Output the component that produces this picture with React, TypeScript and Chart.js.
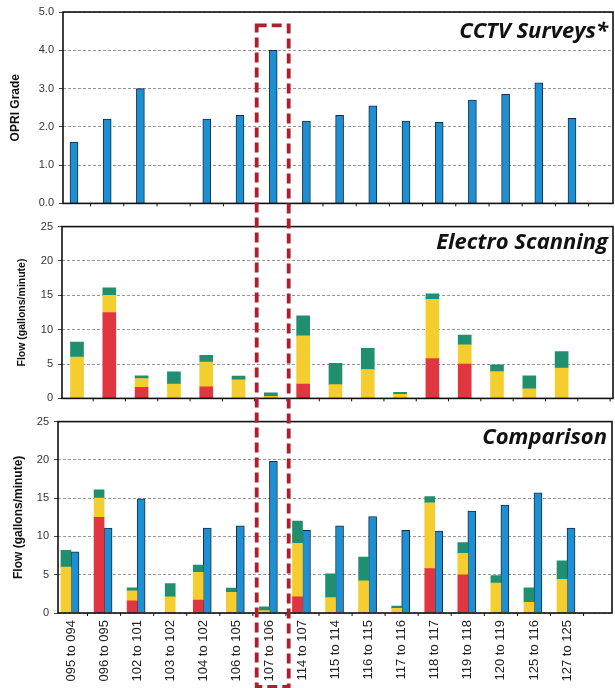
import React, { useEffect, useRef } from "react";
import { Chart, registerables } from "chart.js";
Chart.register(...registerables);

const categories = [
  "095 to 094", "096 to 095", "102 to 101", "103 to 102", "104 to 102", "106 to 105",
  "107 to 106", "114 to 107", "115 to 114", "116 to 115", "117 to 116", "118 to 117",
  "119 to 118", "120 to 119", "125 to 116", "127 to 125",
];
const opriGrade = [1.6, 2.2, 3.0, null, 2.2, 2.3, 4.0, 2.15, 2.3, 2.55, 2.15, 2.12, 2.7, 2.85, 3.15, 2.22];
// Electro scanning flow segments (gallons/minute)
const redFlow = [0, 12.5, 1.6, 0, 1.7, 0, 0, 2.1, 0, 0, 0, 5.8, 5.0, 0, 0, 0];
const yellowFlow = [6.0, 2.5, 1.3, 2.1, 3.6, 2.7, 0.3, 7.0, 2.0, 4.2, 0.6, 8.6, 2.8, 3.9, 1.4, 4.4];
const greenFlow = [2.2, 1.1, 0.4, 1.75, 0.95, 0.55, 0.5, 2.9, 3.1, 3.1, 0.3, 0.8, 1.4, 1.0, 1.9, 2.4];
// CCTV-estimated flow for comparison
const cctvFlow = [8.0, 11.1, 14.9, null, 11.1, 11.4, 19.8, 10.8, 11.4, 12.6, 10.8, 10.7, 13.3, 14.1, 15.7, 11.1];
const highlightIndex = 6;

const RED = "#e1363f";
const YELLOW = "#f6cd2f";
const GREEN = "#1f8f6f";
const BLUE = "#1d8fd3";
const BLUE_EDGE = "#1a2c40";
const FONT = "Liberation Sans";

Chart.defaults.font.family = FONT;

const pts = (arr: (number | null)[]) => arr.map((v, i) => ({ x: i, y: v }));

const decor = (title: string, baseline: number, size: number) => ({
  id: "panelDecor",
  afterDraw(chart: any) {
    const { ctx, chartArea: a } = chart;
    const xs = chart.scales.x;
    ctx.save();
    ctx.strokeStyle = "#111";
    ctx.lineWidth = 1;
    for (let i = 0; i <= categories.length + 1; i++) {
      const px = xs.getPixelForValue(i - 0.5);
      if (px < a.left || px > a.right) continue;
      ctx.beginPath();
      ctx.moveTo(px, a.bottom);
      ctx.lineTo(px, a.bottom + 3);
      ctx.stroke();
    }
    ctx.lineWidth = 1.6;
    ctx.strokeRect(a.left, a.top, a.right - a.left, a.bottom - a.top);
    ctx.font = `italic bold ${size}px "Open Sans"`;
    ctx.textAlign = "right";
    ctx.textBaseline = "alphabetic";
    ctx.fillStyle = "#111";
    ctx.fillText(title, a.right - 5, a.top + baseline);
    ctx.restore();
  },
});

const yScale = (max: number, step: number, fmt: (v: number) => string, title: string, tsize: number, tpad: number, width: number) => ({
  min: 0,
  max,
  stacked: true,
  ticks: { stepSize: step, callback: (v: any) => fmt(Number(v)), color: "#333", font: { size: 11 }, padding: 5 },
  grid: { color: "#999", lineWidth: 1, tickLength: 4, tickColor: "#444" },
  border: { display: false, dash: [3, 2] },
  title: { display: true, text: title, color: "#111", font: { size: tsize, weight: "bold" }, padding: { top: tpad, bottom: 0 } },
  afterFit: (s: any) => { s.width = width; },
});

const xHidden = (min: number, max: number, h: number) => ({
  type: "linear",
  min,
  max,
  offset: false,
  ticks: { display: false },
  grid: { display: false, offset: false },
  border: { display: false },
  afterFit: (s: any) => { s.height = h; },
});

export default function App() {
  const c1 = useRef<HTMLCanvasElement>(null);
  const c2 = useRef<HTMLCanvasElement>(null);
  const c3 = useRef<HTMLCanvasElement>(null);
  const ov = useRef<HTMLCanvasElement>(null);

  useEffect(() => {
    const common = { responsive: false, animation: false as const, plugins: { legend: { display: false }, tooltip: { enabled: false } } };

    const chart1 = new Chart(c1.current!, {
      type: "bar",
      data: {
        datasets: [{ data: pts(opriGrade) as any, backgroundColor: BLUE, borderColor: BLUE_EDGE, borderWidth: 1, barThickness: 8 }],
      },
      options: {
        ...common,
        layout: { padding: { top: 12, right: 2, left: 0, bottom: 0 } },
        scales: {
          x: xHidden(-0.331, 16.235, 8) as any,
          y: yScale(5, 1, (v) => v.toFixed(1), "OPRI Grade", 12, 8, 63) as any,
        },
      },
      plugins: [decor("CCTV Surveys*", 26, 22)],
    });

    const chart2 = new Chart(c2.current!, {
      type: "bar",
      data: {
        datasets: [
          { data: pts(redFlow) as any, backgroundColor: RED, barThickness: 13, stack: "es" },
          { data: pts(yellowFlow) as any, backgroundColor: YELLOW, barThickness: 13, stack: "es" },
          { data: pts(greenFlow) as any, backgroundColor: GREEN, barThickness: 13, stack: "es" },
        ],
      },
      options: {
        ...common,
        layout: { padding: { top: 9, right: 2, left: 0, bottom: 0 } },
        scales: {
          x: xHidden(-0.464, 16.59, 7) as any,
          y: yScale(25, 5, (v) => String(v), "Flow (gallons/minute)", 10.5, 15.5, 62) as any,
        },
      },
      plugins: [decor("Electro Scanning", 22, 22)],
    });

    const chart3 = new Chart(c3.current!, {
      type: "bar",
      data: {
        datasets: [
          { data: pts(redFlow) as any, backgroundColor: RED, barThickness: 10, stack: "es", skipNull: true },
          { data: pts(yellowFlow) as any, backgroundColor: YELLOW, barThickness: 10, stack: "es", skipNull: true },
          { data: pts(greenFlow) as any, backgroundColor: GREEN, barThickness: 10, stack: "es", skipNull: true },
          { data: pts(cctvFlow) as any, backgroundColor: BLUE, borderColor: BLUE_EDGE, borderWidth: 1, barThickness: 8, stack: "cctv", skipNull: true },
        ] as any,
      },
      options: {
        ...common,
        layout: { padding: { top: 10, right: 3, left: 0, bottom: 0 } },
        scales: {
          x: {
            type: "linear",
            min: -0.393,
            max: 16.36,
            offset: false,
            afterBuildTicks: (s: any) => { s.ticks = categories.map((_, i) => ({ value: i })); },
            ticks: {
              autoSkip: false,
              minRotation: 90,
              maxRotation: 90,
              padding: 7,
              color: "#222",
              font: { size: 13 },
              callback: (v: any) => categories[Math.round(Number(v))] ?? "",
            },
            grid: { display: false, drawTicks: false, offset: false },
            border: { display: false },
            afterFit: (s: any) => { s.height = 75; },
          } as any,
          y: yScale(25, 5, (v) => String(v), "Flow (gallons/minute)", 12, 11, 58) as any,
        },
      },
      plugins: [decor("Comparison", 22, 22)],
    });

    // highlight rectangle across panels, positioned from chart1's scales
    const octx = ov.current!.getContext("2d")!;
    octx.clearRect(0, 0, 615, 688);
    const cx = chart1.scales.x.getPixelForValue(highlightIndex);
    const top = chart1.scales.y.getPixelForValue(4.65);
    octx.strokeStyle = "#b01d2c";
    octx.lineWidth = 3.8;
    octx.setLineDash([10, 5]);
    octx.strokeRect(cx - 16.5, top, 32, 687 - top);

    return () => {
      chart1.destroy();
      chart2.destroy();
      chart3.destroy();
    };
  }, []);

  const abs = (top: number, h: number): React.CSSProperties => ({ position: "absolute", left: 0, top, width: 615, height: h, display: "block" });

  return (
    <div style={{ position: "absolute", left: 0, top: 0, width: 615, height: 688, background: "#fff", overflow: "hidden" }}>
      <canvas ref={c1} width={615} height={215} style={abs(0, 215)} />
      <canvas ref={c2} width={615} height={195} style={abs(215, 195)} />
      <canvas ref={c3} width={615} height={278} style={abs(410, 278)} />
      <canvas ref={ov} width={615} height={688} style={{ ...abs(0, 688), pointerEvents: "none" }} />
    </div>
  );
}
